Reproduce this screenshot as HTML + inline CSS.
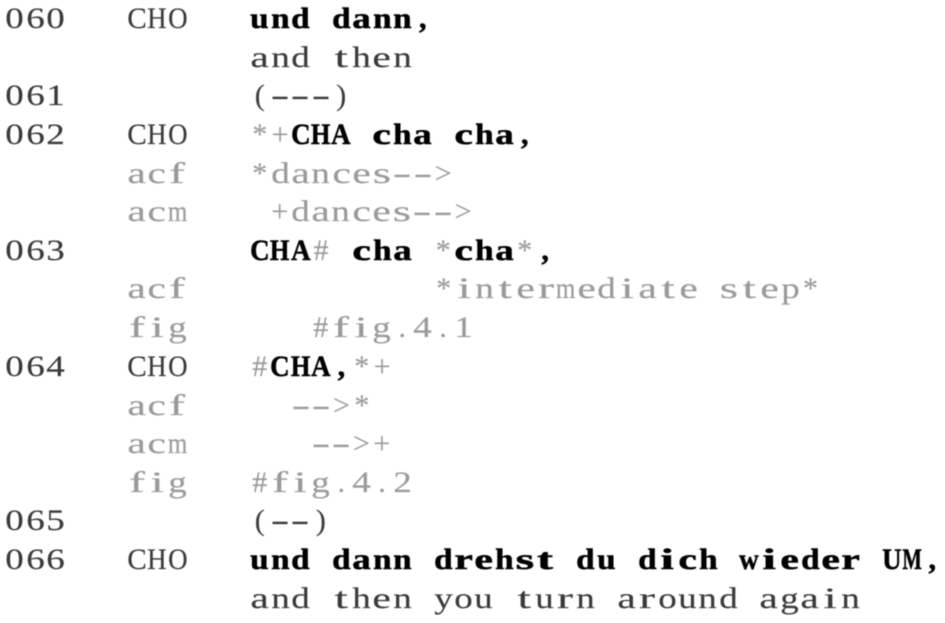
<!DOCTYPE html>
<html><head><meta charset="utf-8"><style>
html,body{margin:0;padding:0;background:#fff;width:945px;height:623px;overflow:hidden}
#w{position:absolute;left:-.5px;top:0;width:945px;height:623px;filter:blur(.4px)}
.l{position:absolute;white-space:pre;font-family:"Liberation Serif",serif;font-size:30px;line-height:40px;color:#3a3a3a;-webkit-text-stroke:.15px currentColor}
.g{color:#9a9a9a}
.b{font-weight:bold;color:#000;-webkit-text-stroke:.5px #000}
.c{display:inline-block;transform-origin:50% 50%}
</style></head><body>
<div id="w">
<div class="l" style="left:5px;top:-1px">060</div><div class="l" style="left:127px;top:-1px">CHO</div><div class="l" style="left:250px;top:-1px"><span class="b">und dann,</span></div>
<div class="l" style="left:250px;top:38px">and then</div>
<div class="l" style="left:5px;top:76px">061</div><div class="l" style="left:250px;top:76px">(---)</div>
<div class="l" style="left:5px;top:115px">062</div><div class="l" style="left:127px;top:115px">CHO</div><div class="l" style="left:250px;top:115px"><span class="g">*+</span><span class="b">CHA cha cha,</span></div>
<div class="l g" style="left:127px;top:154px">acf</div><div class="l g" style="left:250px;top:154px">*dances--&gt;</div>
<div class="l g" style="left:127px;top:192px">acm</div><div class="l g" style="left:270px;top:192px">+dances--&gt;</div>
<div class="l" style="left:5px;top:231px">063</div><div class="l" style="left:250px;top:231px"><span class="b">CHA</span><span class="g">#</span><span class="b"> cha </span><span class="g">*</span><span class="b">cha</span><span class="g">*</span><span class="b">,</span></div>
<div class="l g" style="left:127px;top:269px">acf</div><div class="l g" style="left:434px;top:269px">*intermediate step*</div>
<div class="l g" style="left:127px;top:308px">fig</div><div class="l g" style="left:311px;top:308px">#fig.4.1</div>
<div class="l" style="left:5px;top:347px">064</div><div class="l" style="left:127px;top:347px">CHO</div><div class="l" style="left:250px;top:347px"><span class="g">#</span><span class="b">CHA,</span><span class="g">*+</span></div>
<div class="l g" style="left:127px;top:386px">acf</div><div class="l g" style="left:291px;top:386px">--&gt;*</div>
<div class="l g" style="left:127px;top:424px">acm</div><div class="l g" style="left:311px;top:424px">--&gt;+</div>
<div class="l g" style="left:127px;top:463px">fig</div><div class="l g" style="left:250px;top:463px">#fig.4.2</div>
<div class="l" style="left:5px;top:501px">065</div><div class="l" style="left:250px;top:501px">(--)</div>
<div class="l" style="left:5px;top:540px">066</div><div class="l" style="left:127px;top:540px">CHO</div><div class="l" style="left:250px;top:540px"><span class="b">und dann drehst du dich wieder UM,</span></div>
<div class="l" style="left:250px;top:579px">and then you turn around again</div>
</div>
<script>
(function(){
var P=20.4,nodes=[],t=document.createTreeWalker(document.getElementById('w'),NodeFilter.SHOW_TEXT);
while(t.nextNode())if(t.currentNode.nodeValue.replace(/\s/g,'').length||t.currentNode.parentNode.className=='b')nodes.push(t.currentNode);
var cs=[];
nodes.forEach(function(n){
  var f=document.createDocumentFragment();
  n.nodeValue.split('').forEach(function(ch){
    var s=document.createElement('span');s.className='c';s.textContent=ch;f.appendChild(s);cs.push(s);
  });
  n.parentNode.replaceChild(f,n);
});
var ws=cs.map(function(s){return s.getBoundingClientRect().width});
cs.forEach(function(s,i){
  var w=ws[i],ch=s.textContent,m=(P-w)/2,k=1;
  s.style.marginLeft=m+'px';s.style.marginRight=m+'px';
  if(ch=='-')k=19/w;
  else if(',.()*+#>'.indexOf(ch)<0&&ch!=' '){k=w>19.5?19.5/w:Math.min(18.5/w,1.6)}
  if(k!=1)s.style.transform='scaleX('+k+')';
});
})();
</script>
</body></html>
